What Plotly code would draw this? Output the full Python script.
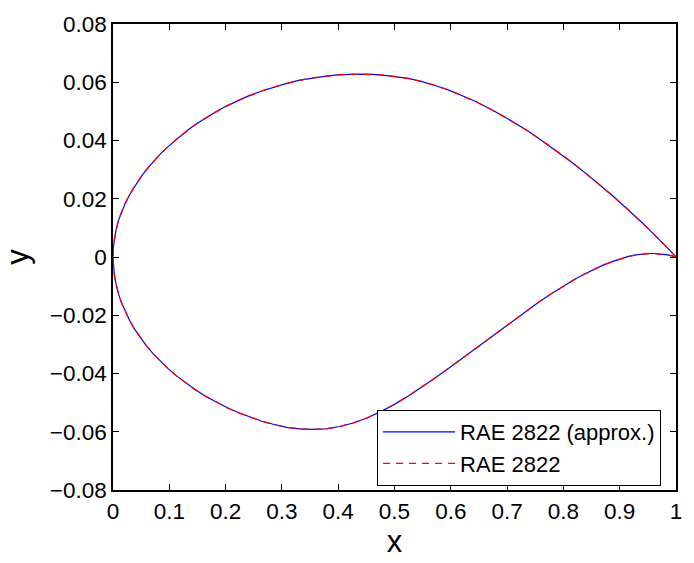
import plotly.graph_objects as go

# RAE 2822 section, upper surface (leading edge -> trailing edge)
x_upper = [0.0, 0.000602, 0.002408, 0.005412, 0.009607, 0.014984, 0.02153, 0.029228, 0.03806,
           0.048005, 0.059039, 0.071136, 0.084265, 0.098396, 0.113495, 0.129524, 0.146447,
           0.164221, 0.182803, 0.20215, 0.222215, 0.242949, 0.264302, 0.286222, 0.308658,
           0.331555, 0.354858, 0.37851, 0.402455, 0.426635, 0.450991, 0.475466, 0.5,
           0.524534, 0.549009, 0.573365, 0.597545, 0.62149, 0.645142, 0.668445, 0.691342,
           0.713778, 0.735698, 0.757051, 0.777785, 0.79785, 0.817197, 0.835779, 0.853553,
           0.870476, 0.886505, 0.901604, 0.915735, 0.928864, 0.940961, 0.951995, 0.96194,
           0.970772, 0.97847, 0.985016, 0.990393, 0.994588, 0.997592, 0.999398, 1.0]
y_upper = [0.0, 0.003165, 0.006306, 0.009416, 0.01248, 0.015489, 0.018441, 0.021348, 0.024219,
           0.027062, 0.029874, 0.032644, 0.03536, 0.038011, 0.040585, 0.043071, 0.045457,
           0.047729, 0.049874, 0.051885, 0.053753, 0.05547, 0.057026, 0.058414, 0.059629,
           0.06066, 0.061497, 0.062133, 0.062562, 0.062779, 0.062774, 0.06253, 0.062029,
           0.061254, 0.060194, 0.058845, 0.057218, 0.055344, 0.053258, 0.050993, 0.048575,
           0.046029, 0.043377, 0.040641, 0.037847, 0.035017, 0.032176, 0.029347, 0.026554,
           0.023817, 0.021153, 0.01858, 0.016113, 0.013769, 0.011562, 0.009508, 0.007622,
           0.005915, 0.004401, 0.003092, 0.002001, 0.001137, 0.00051, 0.000128, 0.0]
# lower surface (leading edge -> trailing edge), same stations
y_lower = [0.0, -0.00316, -0.006308, -0.009443, -0.012559, -0.015649, -0.018707, -0.021722,
           -0.024685, -0.027586, -0.030416, -0.03317, -0.035843, -0.038431, -0.040929,
           -0.043326, -0.04561, -0.047773, -0.049805, -0.051694, -0.053427, -0.054994,
           -0.056376, -0.057547, -0.058459, -0.059046, -0.059236, -0.058974, -0.058224,
           -0.056979, -0.055257, -0.053099, -0.050563, -0.047719, -0.044642, -0.041397,
           -0.038043, -0.034631, -0.031207, -0.027814, -0.024495, -0.021289, -0.018232,
           -0.015357, -0.01269, -0.010244, -0.008027, -0.006048, -0.004314, -0.002829,
           -0.001592, -0.0006, 0.000157, 0.000694, 0.001033, 0.001197, 0.001212, 0.001112,
           0.000935, 0.000719, 0.000497, 0.000296, 0.000137, 3.5e-05, 0.0]
x_lower = x_upper

# approximated section (parametric fit) -- nearly identical to the reference
y_upper_approx = [round(v, 4) for v in y_upper]
y_lower_approx = [round(v, 4) for v in y_lower]

x_ticks = [0, 0.1, 0.2, 0.3, 0.4, 0.5, 0.6, 0.7, 0.8, 0.9, 1]
x_tick_labels = ["0", "0.1", "0.2", "0.3", "0.4", "0.5", "0.6", "0.7", "0.8", "0.9", "1"]
y_ticks = [-0.08, -0.06, -0.04, -0.02, 0, 0.02, 0.04, 0.06, 0.08]
y_tick_labels = ["\u22120.08", "\u22120.06", "\u22120.04", "\u22120.02", "0",
                 "0.02", "0.04", "0.06", "0.08"]

def closed(xu, yu, xl, yl):
    xs = list(reversed(xu)) + list(xl[1:])
    ys = list(reversed(yu)) + list(yl[1:])
    return xs, ys

xa, ya = closed(x_upper, y_upper_approx, x_lower, y_lower_approx)
xr, yr = closed(x_upper, y_upper, x_lower, y_lower)

fig = go.Figure()
fig.add_trace(go.Scatter(x=xa, y=ya, mode="lines", name="RAE 2822 (approx.)",
                         line=dict(color="#0000ff", width=1.2)))
fig.add_trace(go.Scatter(x=xr, y=yr, mode="lines", name="RAE 2822",
                         line=dict(color="#ff0000", width=1.3, dash="7px,6px")))

font_family = "Liberation Sans, Arial, Helvetica, sans-serif"
axis_common = dict(showgrid=False, zeroline=False, showline=True, linecolor="black",
                   linewidth=1.5, mirror="ticks", ticks="inside", ticklen=6,
                   tickcolor="black", tickwidth=1,
                   tickfont=dict(family=font_family, size=22.5, color="black"))

fig.update_layout(
    width=694, height=563,
    margin=dict(l=113, r=15, t=23, b=71),
    paper_bgcolor="white", plot_bgcolor="white",
    font=dict(family=font_family, color="black"),
    xaxis=dict(range=[0, 1], tickvals=x_ticks, ticktext=x_tick_labels,
               title=dict(text="x", font=dict(size=31), standoff=6), **axis_common),
    yaxis=dict(range=[-0.08, 0.08], tickvals=y_ticks, ticktext=y_tick_labels,
               title=dict(text="y", font=dict(size=31), standoff=12), **axis_common),
    legend=dict(x=0.9735, y=0.0085, xanchor="right", yanchor="bottom",
                bgcolor="white", bordercolor="black", borderwidth=1,
                font=dict(family=font_family, size=22, color="black"),
                tracegroupgap=0, itemwidth=72),
)

fig.write_html("out.html")
